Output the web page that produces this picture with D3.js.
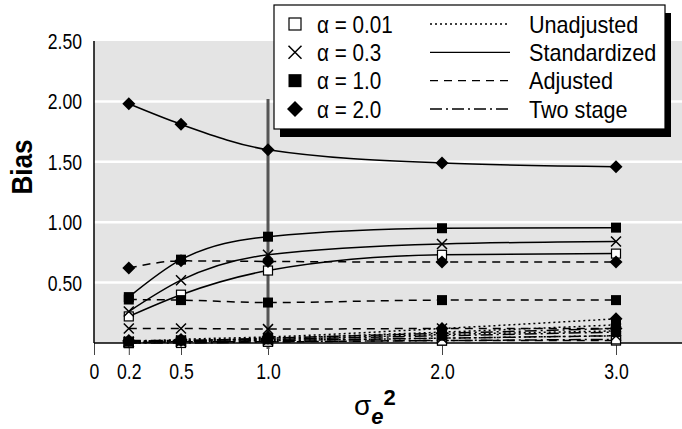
<!DOCTYPE html>
<html><head><meta charset="utf-8">
<script src="https://cdn.jsdelivr.net/npm/d3@7"></script>
<style>
body{margin:0;background:#fff;}
svg{display:block;}
text{font-family:"Liberation Sans",Arial,sans-serif;fill:#000;}
</style></head>
<body><svg id="c" width="682" height="429"></svg>
<script>
const xValues = [0.2, 0.5, 1.0, 2.0, 3.0];
const xTicks = [0, 0.2, 0.5, 1.0, 2.0, 3.0];
const xTickLabels = ["0", "0.2", "0.5", "1.0", "2.0", "3.0"];
const yTicks = [0.5, 1.0, 1.5, 2.0, 2.5];
const yTickLabels = ["0.50", "1.00", "1.50", "2.00", "2.50"];
const alphas = ["0.01", "0.3", "1.0", "2.0"];
const methods = ["Unadjusted", "Standardized", "Adjusted", "Two stage"];
const refLineX = 1.0, refLineTop = 2.02;

// values per method, per alpha (0.01, 0.3, 1.0, 2.0)
const unadjusted = [
  [0.00, 0.01, 0.02, 0.04, 0.06],
  [0.01, 0.02, 0.03, 0.07, 0.10],
  [0.01, 0.02, 0.04, 0.09, 0.15],
  [0.01, 0.03, 0.05, 0.12, 0.20]
];
const standardized = [
  [0.22, 0.40, 0.60, 0.73, 0.74],
  [0.26, 0.52, 0.73, 0.82, 0.84],
  [0.38, 0.69, 0.88, 0.95, 0.955],
  [1.98, 1.81, 1.60, 1.49, 1.46]
];
const adjusted = [
  [0.00, 0.01, 0.01, 0.02, 0.02],
  [0.12, 0.12, 0.115, 0.12, 0.12],
  [0.36, 0.355, 0.335, 0.355, 0.355],
  [0.62, 0.68, 0.675, 0.67, 0.67]
];
const twoStage = [
  [0.00, 0.00, 0.01, 0.02, 0.03],
  [0.01, 0.01, 0.02, 0.04, 0.06],
  [0.01, 0.02, 0.03, 0.06, 0.09],
  [0.02, 0.02, 0.04, 0.08, 0.12]
];
const seriesByMethod = [unadjusted, standardized, adjusted, twoStage];
const dashes = ["2,3", null, "8,6", "12,4,2,4"];

const svg = d3.select("#c");
const W = 682, H = 429;
const x = d3.scaleLinear().domain([0, 3]).range([94, 616]);
const y = d3.scaleLinear().domain([0, 2.5]).range([343, 41]);

function narrow(sel, f) {
  sel.each(function() {
    const len = this.getComputedTextLength();
    d3.select(this).attr("textLength", len * f).attr("lengthAdjust", "spacingAndGlyphs");
  });
}

// plot background
svg.append("rect").attr("x", x(0)).attr("y", y(2.5)).attr("width", W - x(0)).attr("height", y(0) - y(2.5)).attr("fill", "#e4e4e4");
// gridlines
svg.selectAll(".grid").data(yTicks.filter(d => d < 2.5)).join("line")
  .attr("x1", x(0)).attr("x2", W).attr("y1", d => y(d)).attr("y2", d => y(d))
  .attr("stroke", "#fff").attr("stroke-width", 2.5);

// y labels
const yl = svg.selectAll(".yl").data(yTicks).join("text")
  .attr("x", 82).attr("y", d => y(d)).attr("dy", "0.36em")
  .attr("text-anchor", "end").attr("font-size", 22)
  .text((d, i) => yTickLabels[i]);
narrow(yl, 0.8);

// x axis
const xAxis = d3.axisBottom(x).tickValues(xTicks).tickSize(12).tickPadding(8)
  .tickFormat((d, i) => xTickLabels[i]);
const gx = svg.append("g").attr("transform", `translate(0,${y(0)})`).call(xAxis);
gx.select(".domain").remove();
gx.selectAll(".tick line").attr("stroke", "#444").attr("stroke-width", 1);
gx.selectAll(".tick text").attr("font-size", 22).attr("fill", "#000")
  .style("font-family", '"Liberation Sans",Arial,sans-serif');
narrow(gx.selectAll(".tick text"), 0.8);
svg.append("line").attr("x1", x(0)).attr("x2", W).attr("y1", y(0)).attr("y2", y(0)).attr("stroke", "#000").attr("stroke-width", 1.5);
svg.append("line").attr("x1", x(0)).attr("x2", x(0)).attr("y1", y(2.5)).attr("y2", y(0)).attr("stroke", "#000").attr("stroke-width", 1.5);

// reference vertical line
svg.append("line").attr("x1", x(refLineX)).attr("x2", x(refLineX)).attr("y1", y(refLineTop)).attr("y2", y(0) + 6)
  .attr("stroke", "#555").attr("stroke-width", 3);

// lines
const line = d3.line().x((d, i) => x(xValues[i])).y(d => y(d)).curve(d3.curveMonotoneX);
const plot = svg.append("g");
seriesByMethod.forEach((ser, mi) => {
  ser.forEach((vals, ai) => {
    plot.append("path").attr("d", line(vals)).attr("fill", "none")
      .attr("stroke", "#000").attr("stroke-width", 1.5)
      .attr("stroke-dasharray", dashes[mi]);
  });
});

function marker(g, ai, cx, cy, s) {
  if (ai === 0) {
    g.append("rect").attr("x", cx - s/2).attr("y", cy - s/2).attr("width", s).attr("height", s)
      .attr("fill", "#fff").attr("stroke", "#000").attr("stroke-width", 1.2);
  } else if (ai === 1) {
    const h = s/2;
    g.append("path").attr("d", `M${cx-h},${cy-h}L${cx+h},${cy+h}M${cx-h},${cy+h}L${cx+h},${cy-h}`)
      .attr("stroke", "#000").attr("stroke-width", 1.5).attr("fill", "none");
  } else if (ai === 2) {
    g.append("rect").attr("x", cx - s/2).attr("y", cy - s/2).attr("width", s).attr("height", s).attr("fill", "#000");
  } else {
    const h = s/2 + 1.5;
    g.append("path").attr("d", `M${cx},${cy-h}L${cx+h},${cy}L${cx},${cy+h}L${cx-h},${cy}Z`).attr("fill", "#000");
  }
}
seriesByMethod.forEach((ser, mi) => {
  ser.forEach((vals, ai) => {
    vals.forEach((v, i) => marker(plot, ai, x(xValues[i]), y(v), ai === 0 ? 9 : 10));
  });
});

// legend
const L = {x: 274, y: 5, w: 391, h: 124};
svg.append("rect").attr("x", L.x + 6).attr("y", L.y + 8).attr("width", L.w).attr("height", L.h).attr("fill", "#000");
svg.append("rect").attr("x", L.x).attr("y", L.y).attr("width", L.w).attr("height", L.h).attr("fill", "#fff").attr("stroke", "#000").attr("stroke-width", 1.2);
const rowY = d3.scaleLinear().domain([0, 3]).range([24, 109]);
alphas.forEach((a, i) => {
  marker(svg, i, 295, rowY(i), i === 0 ? 12 : 13);
  const t = svg.append("text").attr("x", 317).attr("y", rowY(i)).attr("dy", "0.36em").attr("font-size", 24)
    .text("α = " + a);
  narrow(t, 0.86);
});
methods.forEach((mname, i) => {
  svg.append("line").attr("x1", 430).attr("x2", 510).attr("y1", rowY(i)).attr("y2", rowY(i))
    .attr("stroke", "#000").attr("stroke-width", 1.3).attr("stroke-dasharray", dashes[i]);
  const t = svg.append("text").attr("x", 529).attr("y", rowY(i)).attr("dy", "0.36em").attr("font-size", 24)
    .text(mname);
  narrow(t, 0.9);
});

// axis titles
const bias = svg.append("text").attr("transform", "translate(32,167) rotate(-90)").attr("text-anchor", "middle")
  .attr("font-size", 30).attr("font-weight", "bold").text("Bias");
narrow(bias, 0.87);
const t = svg.append("text").attr("x", 354).attr("y", 415).attr("font-size", 28);
t.append("tspan").text("σ");
t.append("tspan").attr("font-weight", "bold").attr("font-style", "italic").attr("font-size", 22).attr("dy", 9).text("e");
t.append("tspan").attr("font-weight", "bold").attr("font-size", 22).attr("dy", -19).text("2");
</script></body></html>
